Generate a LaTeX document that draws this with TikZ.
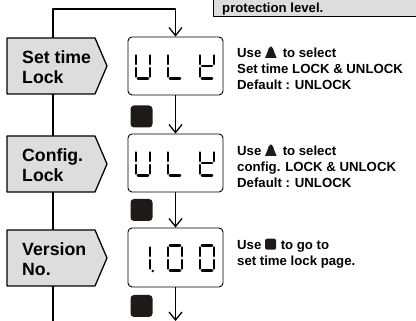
\documentclass[tikz,border=0pt]{standalone}
\usepackage{fontspec}
\setmainfont{Liberation Sans}
\usetikzlibrary{arrows.meta}
\definecolor{panelgray}{RGB}{221,221,221}
\definecolor{keyblack}{RGB}{30,26,26}
\newcommand\mytriicon{\tikz[x=1pt,y=1pt,baseline=0pt]\fill[keyblack] (0,0) -- (11.5,0) .. controls (10,3.1) and (9,6.2) .. (7.8,9.6) .. controls (6.9,12.1) and (4.6,12.1) .. (3.7,9.6) .. controls (2.5,6.2) and (1.5,3.1) .. (0,0) -- cycle;\hspace{2.5pt}}
\newcommand\mysqicon{\tikz[x=1pt,y=1pt,baseline=0pt]\fill[keyblack,rounded corners=2pt] (0,0) rectangle (11,11);\hspace{1pt}}
% seven-segment helpers: #1 = left x, #2 = top y  (cell 14 x 25)
\newcommand\sgA[2]{\draw[lcdseg] ({#1+1.9},{#2}) -- ({#1+12.1},{#2});}
\newcommand\sgB[2]{\draw[lcdseg] ({#1+14},{#2+1.9}) -- ({#1+14},{#2+10.6});}
\newcommand\sgC[2]{\draw[lcdseg] ({#1+14},{#2+14.4}) -- ({#1+14},{#2+23.1});}
\newcommand\sgD[2]{\draw[lcdseg] ({#1+1.9},{#2+25}) -- ({#1+12.1},{#2+25});}
\newcommand\sgE[2]{\draw[lcdseg] ({#1},{#2+14.4}) -- ({#1},{#2+23.1});}
\newcommand\sgF[2]{\draw[lcdseg] ({#1},{#2+1.9}) -- ({#1},{#2+10.6});}
\newcommand\sgG[2]{\draw[lcdseg] ({#1+1.9},{#2+12.5}) -- ({#1+12.1},{#2+12.5});}
\begin{document}
\begin{tikzpicture}[x=1pt,y=-1pt, line join=round,
  lcd/.style={draw=black, line width=0.9pt, fill=white, rounded corners=4pt, minimum width=95pt, minimum height=58pt, inner sep=0pt},
  key/.style={fill=keyblack, rounded corners=3.5pt, minimum size=22pt, inner sep=0pt},
  flow/.style={line width=1.3pt, -{Straight Barb[length=8pt,width=13pt,line width=1.3pt]}},
  tag/.style={draw=black, line width=1.3pt, fill=panelgray},
  tagtext/.style={font=\fontsize{17.7}{20}\selectfont\bfseries, align=left, anchor=west, inner sep=0pt},
  note/.style={font=\fontsize{13.2}{16}\selectfont\bfseries, align=left, anchor=north west, inner sep=0pt},
  lcdseg/.style={line width=2.4pt, line cap=round},
]
\useasboundingbox (0,0) rectangle (416,321);

% top note panel
\draw[draw=black, line width=1pt, fill=panelgray] (213,-5) rectangle (421,17);
\node[note, anchor=base west] (plevel) at (222,12.5) {protection level.};

% displays and keys
\node[lcd] (d1) at (175.5,66) {};
\node[lcd] (d2) at (175.5,163) {};
\node[lcd, minimum height=59pt] (d3) at (175.5,257.5) {};
\node[key] (k1) at (141.5,116.5) {};
\node[key] (k2) at (141.5,210) {};
\node[key] (k3) at (141.5,306) {};

\coordinate (rbot) at (53,322);
\coordinate (rtop) at (53,9);
\coordinate (out) at (175.5,321);

% connectors
\draw[flow] (rbot) -- (rtop) -| (d1.north);
\draw[flow] (d1.south) -- (d2.north);
\draw[flow] (d2.south) -- (d3.north);
\draw[flow] (d3.south) -- (out);

% step tags
\foreach \c in {66,164,258}{
  \draw[tag] (7,\c-28) -- (95,\c-28) -- (107,\c) -- (95,\c+28) -- (7,\c+28) -- cycle;
}
\node[tagtext] (t1) at (22,67) {Set time\\Lock};
\node[tagtext] (t2) at (22,165) {Config.\\Lock};
\node[tagtext] (t3) at (22,259) {Version\\No.};

% LCD digits row 1: U L K
\sgB{136}{53.5}\sgC{136}{53.5}\sgD{136}{53.5}\sgE{136}{53.5}\sgF{136}{53.5}
\sgD{168}{53.5}\sgE{168}{53.5}\sgF{168}{53.5}
\sgB{200}{53.5}\sgF{200}{53.5}\sgG{200}{53.5}\sgE{200}{53.5}\sgD{200}{53.5}
% row 2
\sgB{136}{150.5}\sgC{136}{150.5}\sgD{136}{150.5}\sgE{136}{150.5}\sgF{136}{150.5}
\sgD{168}{150.5}\sgE{168}{150.5}\sgF{168}{150.5}
\sgB{200}{150.5}\sgF{200}{150.5}\sgG{200}{150.5}\sgE{200}{150.5}\sgD{200}{150.5}
% row 3: 1.00
\sgB{136}{245.5}\sgC{136}{245.5}
\fill (152.8,271) circle (1.4);
\sgA{168}{245.5}\sgB{168}{245.5}\sgC{168}{245.5}\sgD{168}{245.5}\sgE{168}{245.5}\sgF{168}{245.5}
\sgA{200}{245.5}\sgB{200}{245.5}\sgC{200}{245.5}\sgD{200}{245.5}\sgE{200}{245.5}\sgF{200}{245.5}

% notes
\node[note] (n1) at (237,45.5) {Use \mytriicon{} to select\\Set time LOCK \& UNLOCK\\Default : UNLOCK};
\node[note] (n2) at (237,143.5) {Use \mytriicon{} to select\\config. LOCK \& UNLOCK\\Default : UNLOCK};
\node[note] (n3) at (237,238.5) {Use \mysqicon{} to go to\\set time lock page.};
\end{tikzpicture}
\end{document}
